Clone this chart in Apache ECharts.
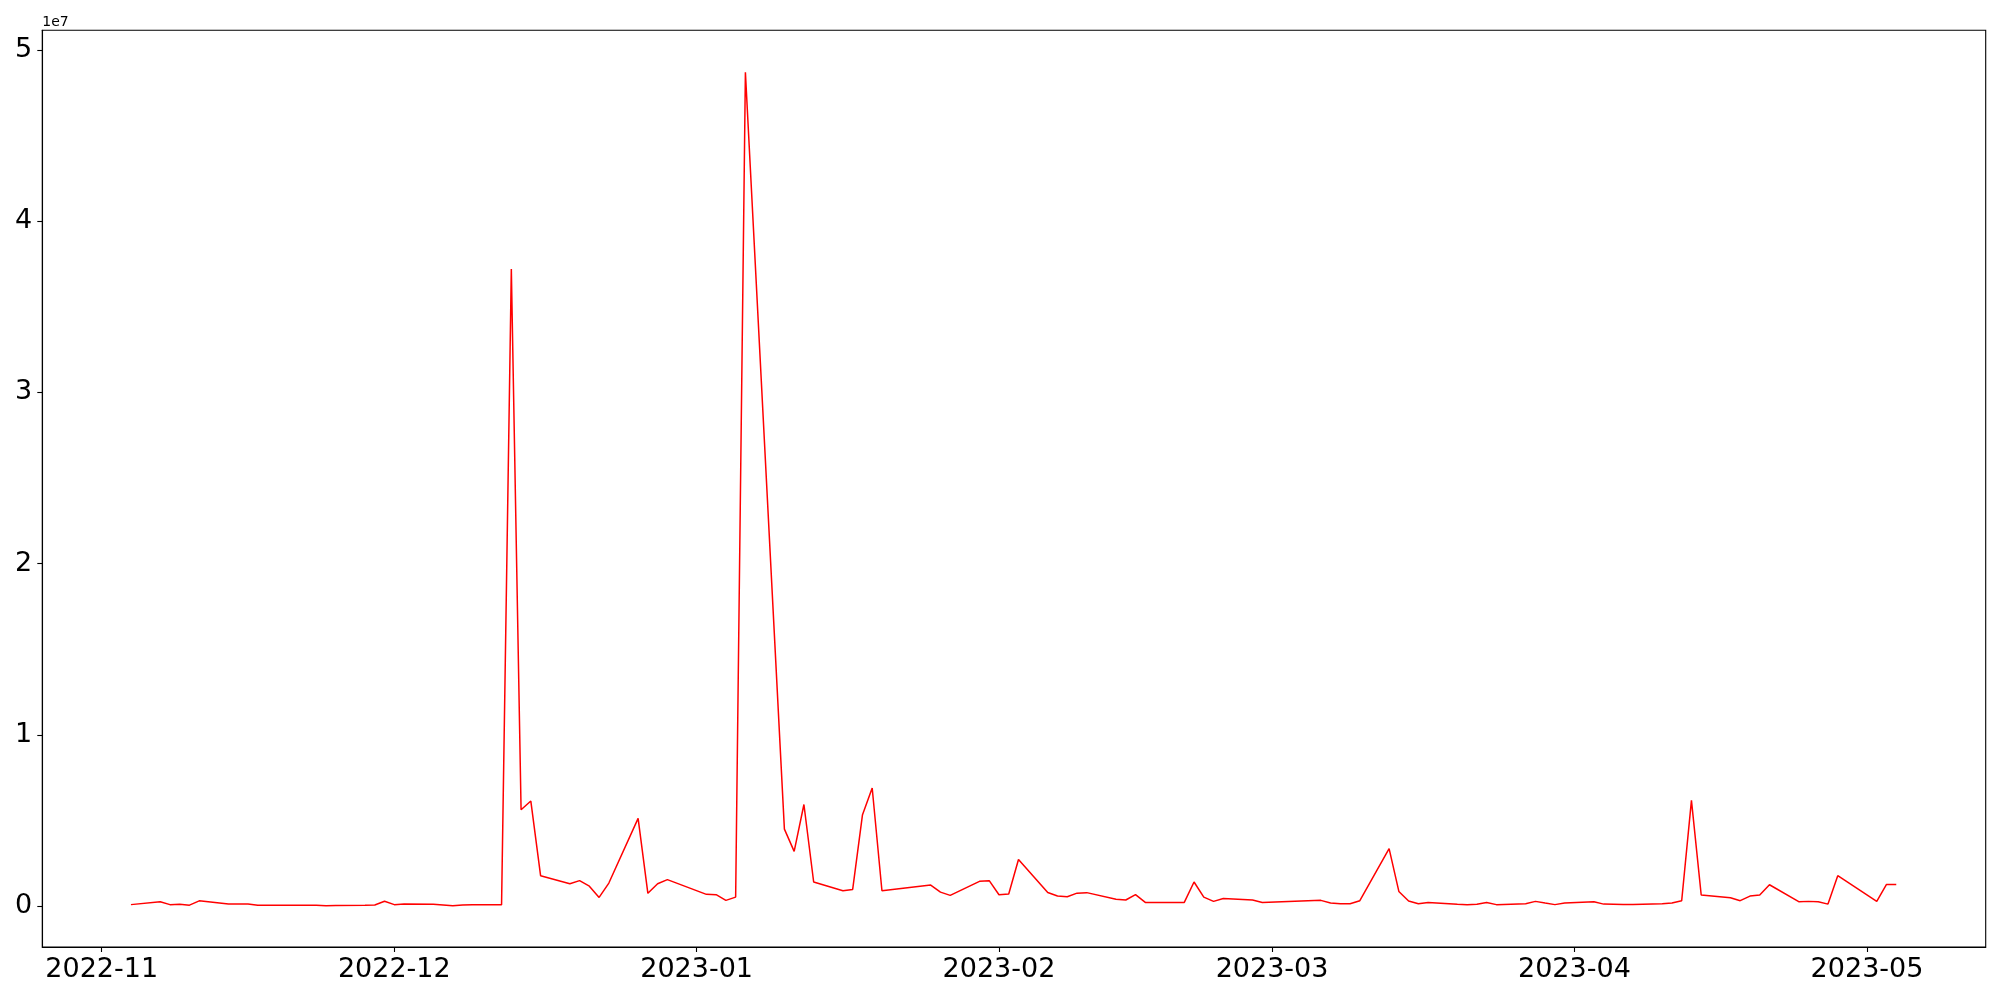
<!DOCTYPE html>
<html>
<head>
<meta charset="utf-8">
<script src="https://cdn.jsdelivr.net/npm/echarts@6/dist/echarts.min.js"></script>
<style>
  html, body { margin: 0; padding: 0; background: #fff; }
  #chart { width: 2000px; height: 1000px; }
</style>
</head>
<body>
<div id="chart"></div>
<script>
// Dates of observations
const dates = [
  '2022-11-04','2022-11-07','2022-11-08','2022-11-09','2022-11-10','2022-11-11',
  '2022-11-14','2022-11-15','2022-11-16','2022-11-17','2022-11-18',
  '2022-11-21','2022-11-22','2022-11-23','2022-11-24','2022-11-25',
  '2022-11-28','2022-11-29','2022-11-30','2022-12-01','2022-12-02',
  '2022-12-05','2022-12-06','2022-12-07','2022-12-08','2022-12-09',
  '2022-12-12','2022-12-13','2022-12-14','2022-12-15','2022-12-16',
  '2022-12-19','2022-12-20','2022-12-21','2022-12-22','2022-12-23',
  '2022-12-26','2022-12-27','2022-12-28','2022-12-29',
  '2023-01-02','2023-01-03','2023-01-04','2023-01-05','2023-01-06',
  '2023-01-10','2023-01-11','2023-01-12','2023-01-13',
  '2023-01-16','2023-01-17','2023-01-18','2023-01-19','2023-01-20',
  '2023-01-25','2023-01-26','2023-01-27',
  '2023-01-30','2023-01-31','2023-02-01','2023-02-02','2023-02-03',
  '2023-02-06','2023-02-07','2023-02-08','2023-02-09','2023-02-10',
  '2023-02-13','2023-02-14','2023-02-15','2023-02-16','2023-02-17',
  '2023-02-20','2023-02-21','2023-02-22','2023-02-23','2023-02-24',
  '2023-02-27','2023-02-28',
  '2023-03-06','2023-03-07','2023-03-08','2023-03-09','2023-03-10',
  '2023-03-13','2023-03-14','2023-03-15','2023-03-16','2023-03-17',
  '2023-03-20','2023-03-21','2023-03-22','2023-03-23','2023-03-24',
  '2023-03-27','2023-03-28','2023-03-29','2023-03-30','2023-03-31',
  '2023-04-03','2023-04-04','2023-04-05','2023-04-06','2023-04-07',
  '2023-04-10','2023-04-11','2023-04-12','2023-04-13','2023-04-14',
  '2023-04-17','2023-04-18','2023-04-19','2023-04-20','2023-04-21',
  '2023-04-24','2023-04-25','2023-04-26','2023-04-27','2023-04-28',
  '2023-05-02','2023-05-03','2023-05-04'
];
// Values in millions
const valuesMillions = [
  0.08,0.25,0.08,0.10,0.05,0.30,
  0.12,0.11,0.12,0.05,0.05,
  0.05,0.05,0.04,0.01,0.03,
  0.05,0.06,0.28,0.08,0.12,
  0.10,0.06,0.01,0.06,0.08,
  0.08,37.2,5.62,6.13,1.77,
  1.30,1.48,1.16,0.50,1.34,
  5.12,0.74,1.30,1.54,
  0.68,0.66,0.33,0.52,48.7,
  4.49,3.19,5.93,1.40,
  0.89,0.97,5.31,6.89,0.89,
  1.22,0.81,0.62,
  1.44,1.48,0.66,0.70,2.72,
  0.79,0.58,0.54,0.75,0.78,
  0.39,0.35,0.66,0.21,0.21,
  0.21,1.40,0.52,0.27,0.44,
  0.35,0.21,
  0.33,0.17,0.13,0.13,0.31,
  3.35,0.85,0.29,0.13,0.21,
  0.10,0.08,0.10,0.21,0.08,
  0.13,0.27,0.17,0.08,0.17,
  0.25,0.11,0.10,0.09,0.09,
  0.13,0.17,0.31,6.17,0.64,
  0.48,0.31,0.58,0.64,1.24,
  0.25,0.27,0.25,0.11,1.77,
  0.27,1.26,1.26
];
// Tick labels
const xTickLabels = ['2022-11','2022-12','2023-01','2023-02','2023-03','2023-04','2023-05'];
const yTickValues = [0, 1, 2, 3, 4, 5]; // in units of 1e7
const yOffsetText = '1e7';

function utc(s) {
  const p = s.split('-').map(Number);
  return Date.UTC(p[0], p[1] - 1, p[2] || 1);
}
const seriesData = dates.map((d, i) => [utc(d), valuesMillions[i] * 1e6]);
const xTicks = xTickLabels.map(utc);
const yTicks = yTickValues.map(v => v * 1e7);

const DAY = 86400000;
const xMin = utc('2022-11-01') - 6.09 * DAY;
const xMax = utc('2022-11-01') + 193.17 * DAY;

const chart = echarts.init(document.getElementById('chart'), null, { renderer: 'canvas' });
chart.setOption({
  animation: false,
  backgroundColor: '#ffffff',
  grid: {
    left: 42.3, right: 14.3, top: 30.3, bottom: 53,
    show: true, borderColor: '#000', borderWidth: 1.1, backgroundColor: 'transparent'
  },
  xAxis: {
    type: 'value',
    min: xMin, max: xMax,
    splitLine: { show: false },
    axisLine: { show: true, onZero: false, lineStyle: { color: '#000', width: 1.1 } },
    axisTick: { show: true, customValues: xTicks, length: 5, lineStyle: { color: '#000', width: 1.1 } },
    axisLabel: {
      customValues: xTicks,
      margin: 9,
      color: '#000',
      fontSize: 27,
      fontFamily: 'DejaVu Sans',
      formatter: function (v) {
        const i = xTicks.indexOf(v);
        if (i >= 0) return xTickLabels[i];
        const d = new Date(v);
        const m = d.getUTCMonth() + 1;
        return d.getUTCFullYear() + '-' + (m < 10 ? '0' + m : m);
      }
    }
  },
  yAxis: {
    type: 'value',
    min: -2.395e6, max: 5.115e7,
    name: yOffsetText,
    nameLocation: 'end',
    nameGap: 1,
    nameTextStyle: { align: 'left', verticalAlign: 'bottom', fontSize: 14, color: '#000', fontFamily: 'DejaVu Sans', padding: [0, 0, 0, 0] },
    splitLine: { show: false },
    axisLine: { show: true, onZero: false, lineStyle: { color: '#000', width: 1.1 } },
    axisTick: { show: true, customValues: yTicks, length: 5, lineStyle: { color: '#000', width: 1.1 } },
    axisLabel: {
      customValues: yTicks,
      margin: 10,
      color: '#000',
      fontSize: 27,
      fontFamily: 'DejaVu Sans',
      formatter: function (v) { return String(Math.round(v / 1e7)); }
    }
  },
  series: [{
    type: 'line',
    data: seriesData,
    showSymbol: false,
    symbol: 'none',
    lineStyle: { color: '#ff0000', width: 1.5 },
    itemStyle: { color: '#ff0000' }
  }]
});
</script>
</body>
</html>
